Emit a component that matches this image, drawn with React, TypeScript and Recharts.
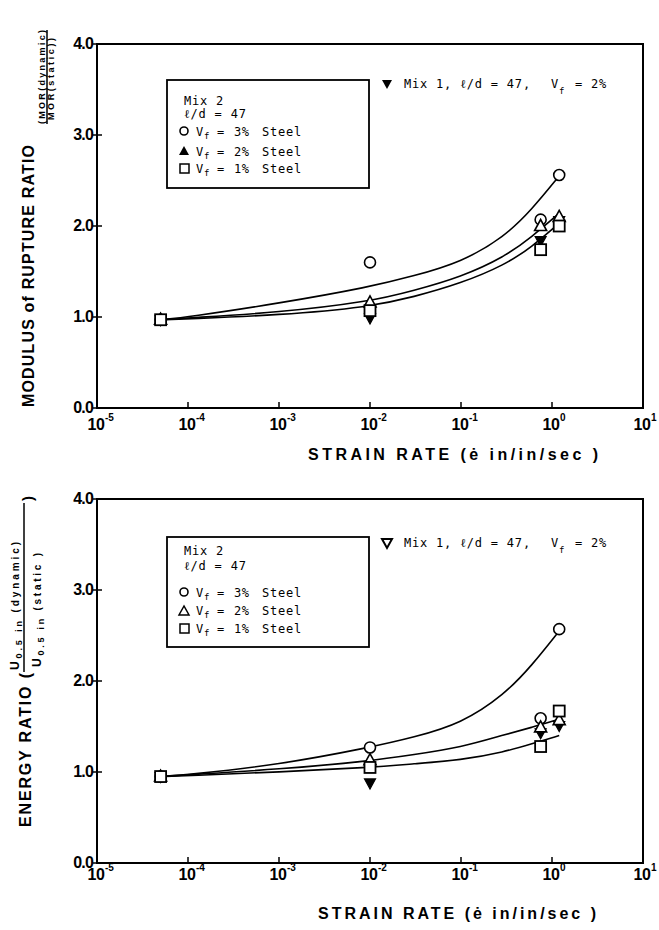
import React from 'react'
import { ComposedChart, Line, Scatter, XAxis, YAxis, ReferenceArea, Customized } from 'recharts'

// strain rates (in/in/sec) where the tests were run
const strainRate = [5e-5, 1e-2, 0.75, 1.2]
// strain rates used to trace the fitted curves
const fitRate = [5e-5, 1e-4, 1e-3, 1e-2, 3e-2, 1e-1, 0.3, 0.6, 1.2]

const xTicks = [1e-5, 1e-4, 1e-3, 1e-2, 1e-1, 1, 10]
const xTickExp = ['-5', '-4', '-3', '-2', '-1', '0', '1']
const yTicks = [0, 1, 2, 3, 4]
const yTickLabels = ['0.0', '1.0', '2.0', '3.0', '4.0']

// modulus of rupture ratio (top panel)
const morVf3 = [0.97, 1.6, 2.07, 2.56]
const morVf2 = [0.97, 1.16, 2.0, 2.1]
const morVf1 = [0.97, 1.07, 1.74, 2.0]
const morMix1 = [0.97, 0.99, 1.84, 2.06]
const morFitVf3 = [0.97, 1.0, 1.15, 1.33, 1.45, 1.6, 1.88, 2.18, 2.55]
const morFitVf2 = [0.97, 0.99, 1.05, 1.17, 1.29, 1.44, 1.66, 1.88, 2.14]
const morFitVf1 = [0.97, 0.98, 1.02, 1.11, 1.22, 1.37, 1.57, 1.77, 2.03]

// energy ratio (bottom panel)
const engVf3 = [0.95, 1.27, 1.59, 2.57]
const engVf2 = [0.95, 1.13, 1.49, 1.57]
const engVf1 = [0.95, 1.05, 1.28, 1.67]
const engMix1 = [0.95, 0.88, 1.43, 1.51]
const engFitVf3 = [0.95, 0.97, 1.08, 1.27, 1.38, 1.53, 1.85, 2.17, 2.55]
const engFitVf2 = [0.95, 0.97, 1.03, 1.12, 1.19, 1.27, 1.41, 1.49, 1.58]
const engFitVf1 = [0.95, 0.96, 1.0, 1.05, 1.09, 1.13, 1.22, 1.31, 1.4]

const SANS = '"Liberation Sans", Arial, sans-serif'
const MONO = '"DejaVu Sans Mono", monospace'

const toPts = (xs: number[], ys: number[]) => xs.map((x, i) => ({ x, y: ys[i] }))

// marker shapes
const OpenCircle = (p: any) => (
  <circle cx={p.cx} cy={p.cy} r={5.5} fill="#fff" stroke="#000" strokeWidth={1.6} />
)
const OpenTriangle = (p: any) => (
  <polygon
    points={`${p.cx},${p.cy - 6.5} ${p.cx - 6},${p.cy + 4.5} ${p.cx + 6},${p.cy + 4.5}`}
    fill="#fff"
    stroke="#000"
    strokeWidth={1.6}
  />
)
const OpenSquare = (p: any) => (
  <rect x={p.cx - 5.5} y={p.cy - 5.5} width={11} height={11} fill="#fff" stroke="#000" strokeWidth={1.8} />
)
const DownTriangle = (p: any) => (
  <polygon
    points={`${p.cx - 5.5},${p.cy - 4} ${p.cx + 5.5},${p.cy - 4} ${p.cx},${p.cy + 6}`}
    fill="#000"
    stroke="#000"
    strokeWidth={1.2}
  />
)

const XTick = ({ x, y, index, lift }: any) => (
  <g>
    <line x1={x} x2={x} y1={y} y2={y - 6} stroke="#000" strokeWidth={1.5} />
    <text x={x - 1} y={y + lift} textAnchor="middle" fontFamily={SANS} fontWeight="bold" fontSize={16} letterSpacing={-0.5}>
      10
    </text>
    <text x={x + 8} y={y + lift - 9} fontFamily={SANS} fontWeight="bold" fontSize={10}>
      {xTickExp[index]}
    </text>
  </g>
)

const YTick = ({ x, y, index }: any) => (
  <g>
    <line x1={x - 4} x2={x + 5} y1={y} y2={y} stroke="#000" strokeWidth={1.5} />
    <text x={x - 4} y={y + 5} textAnchor="end" fontFamily={SANS} fontWeight="bold" fontSize={16} letterSpacing={-0.8}>
      {yTickLabels[index]}
    </text>
  </g>
)

type LegendPos = {
  boxY: number
  boxH: number
  rows: number[] // baselines: Mix 2, l/d, 3%, 2%, 1%
  marks: number[] // marker centres: 3%, 2%, 1%
  mix1Base: number
  filled: boolean
}

function LegendBlock({ pos }: { pos: LegendPos }) {
  const mx = 183
  const vx = 196
  const line = (base: number, pct: string) => (
    <g fontFamily={MONO} fontSize={12}>
      <text x={vx} y={base}>V</text>
      <text x={vx + 8} y={base + 3} fontSize={9}>f</text>
      <text x={vx + 21} y={base}>=</text>
      <text x={vx + 38} y={base} letterSpacing={0.6}>{pct}</text>
      <text x={vx + 66} y={base} letterSpacing={0.8}>Steel</text>
    </g>
  )
  const [c, t, s] = pos.marks
  const m1 = pos.mix1Base - 4
  return (
    <g>
      <rect x={167} y={pos.boxY} width={202} height={pos.boxH} fill="#fff" stroke="#000" strokeWidth={1.8} />
      <text x={184} y={pos.rows[0]} fontFamily={MONO} fontSize={12} letterSpacing={0.8}>Mix 2</text>
      <text x={184} y={pos.rows[1]} fontFamily={MONO} fontSize={12} letterSpacing={0.8}>ℓ/d = 47</text>
      <circle cx={mx + 1} cy={c} r={4} fill="none" stroke="#000" strokeWidth={1.6} />
      {pos.filled ? (
        <polygon points={`${mx + 1},${t - 5} ${mx - 4},${t + 4} ${mx + 6},${t + 4}`} fill="#000" />
      ) : (
        <polygon points={`${mx + 1},${t - 5} ${mx - 4},${t + 4} ${mx + 6},${t + 4}`} fill="none" stroke="#000" strokeWidth={1.5} />
      )}
      <rect x={mx - 3} y={s - 4} width={9} height={9} fill="none" stroke="#000" strokeWidth={1.5} />
      {line(pos.rows[2], '3%')}
      {line(pos.rows[3], '2%')}
      {line(pos.rows[4], '1%')}

      {pos.filled ? (
        <polygon points={`${382},${m1 - 4} ${392},${m1 - 4} ${387},${m1 + 5}`} fill="#000" />
      ) : (
        <polygon points={`${382},${m1 - 4} ${392},${m1 - 4} ${387},${m1 + 5}`} fill="#fff" stroke="#000" strokeWidth={2} />
      )}
      <g fontFamily={MONO} fontSize={12} letterSpacing={0.8}>
        <text x={404} y={pos.mix1Base}>Mix 1, ℓ/d = 47,</text>
        <text x={551} y={pos.mix1Base}>V</text>
        <text x={559} y={pos.mix1Base + 6} fontSize={9}>f</text>
        <text x={575} y={pos.mix1Base}>= 2%</text>
      </g>
    </g>
  )
}

function MorLabel() {
  return (
    <g fontFamily={SANS} fontWeight="bold">
      <text transform="translate(34,407) rotate(-90)" fontSize={16} textLength={262} lengthAdjust="spacing">
        MODULUS of RUPTURE RATIO
      </text>
      <text transform="translate(45,124) rotate(-90)" fontSize={9} textLength={94} lengthAdjust="spacing">
        (MOR(dynamic)
      </text>
      <line x1={47} x2={47} y1={124} y2={30} stroke="#000" strokeWidth={1.5} />
      <text transform="translate(54,120) rotate(-90)" fontSize={9} textLength={82} lengthAdjust="spacing">
        MOR(static))
      </text>
      <text x={308} y={460} fontSize={16} textLength={290} lengthAdjust="spacing">
        STRAIN RATE (ė in/in/sec )
      </text>
    </g>
  )
}

function EnergyLabel() {
  return (
    <g fontFamily={SANS} fontWeight="bold">
      <text transform="translate(31,362) rotate(-90)" fontSize={16} textLength={154} lengthAdjust="spacing">
        ENERGY  RATIO (
      </text>
      <text transform="translate(19,205) rotate(-90)" fontSize={12} textLength={128} lengthAdjust="spacing">
        U<tspan fontSize={9} dy={3}>0.5 in</tspan>
        <tspan dy={-3} fontSize={10}> (dynamic)</tspan>
      </text>
      <line x1={24} x2={24} y1={207} y2={38} stroke="#000" strokeWidth={1.5} />
      <text transform="translate(41,202) rotate(-90)" fontSize={12} textLength={114} lengthAdjust="spacing">
        U<tspan fontSize={9} dy={3}>0.5 in</tspan>
        <tspan dy={-3} fontSize={10}> (static )</tspan>
      </text>
      <text transform="translate(33,36) rotate(-90)" fontSize={15}>)</text>
      <text x={318} y={454} fontSize={16} textLength={278} lengthAdjust="spacing">
        STRAIN RATE (ė in/in/sec )
      </text>
    </g>
  )
}

type PanelProps = {
  height: number
  plotTop: number
  plotBottom: number
  vf3: number[]
  vf2: number[]
  vf1: number[]
  mix1: number[]
  fit3: number[]
  fit2: number[]
  fit1: number[]
  tickLift: number
  legend: LegendPos
  labels: React.ReactNode
}

const Y_AXIS_W = 40
const X_AXIS_H = 30

function RatioPanel(p: PanelProps) {
  const lineProps = {
    dataKey: 'y',
    type: 'basis' as const,
    stroke: '#000',
    strokeWidth: 1.6,
    dot: false,
    isAnimationActive: false,
  }
  return (
    <ComposedChart
      width={659}
      height={p.height}
      margin={{ top: p.plotTop, right: 16, bottom: p.height - p.plotBottom - X_AXIS_H, left: 97 - Y_AXIS_W }}
    >
      <XAxis
        dataKey="x"
        type="number"
        scale="log"
        domain={[1e-5, 10]}
        ticks={xTicks}
        interval={0}
        allowDataOverflow
        height={X_AXIS_H}
        tickSize={0}
        tickMargin={0}
        axisLine={{ stroke: '#000', strokeWidth: 2 }}
        tickLine={false}
        tick={(t: any) => <XTick {...t} lift={p.tickLift} />}
      />
      <YAxis
        dataKey="y"
        type="number"
        domain={[0, 4]}
        ticks={yTicks}
        interval={0}
        width={Y_AXIS_W}
        tickSize={0}
        tickMargin={0}
        axisLine={{ stroke: '#000', strokeWidth: 2 }}
        tickLine={false}
        tick={(t: any) => <YTick {...t} />}
      />
      <ReferenceArea x1={1e-5} x2={10} y1={0} y2={4} fill="none" stroke="#000" strokeWidth={2} />
      <Customized component={<LegendBlock pos={p.legend} />} />
      <Customized component={<g>{p.labels}</g>} />

      <Line {...lineProps} data={toPts(fitRate, p.fit3)} />
      <Line {...lineProps} data={toPts(fitRate, p.fit2)} />
      <Line {...lineProps} data={toPts(fitRate, p.fit1)} />

      <Scatter dataKey="y" data={toPts(strainRate, p.mix1)} shape={DownTriangle} isAnimationActive={false} />
      <Scatter dataKey="y" data={toPts(strainRate, p.vf3)} shape={OpenCircle} isAnimationActive={false} />
      <Scatter dataKey="y" data={toPts(strainRate, p.vf2)} shape={OpenTriangle} isAnimationActive={false} />
      <Scatter dataKey="y" data={toPts(strainRate, p.vf1)} shape={OpenSquare} isAnimationActive={false} />
    </ComposedChart>
  )
}

export default function App() {
  return (
    <div style={{ position: 'absolute', left: 0, top: 0, width: 659, height: 930, background: '#fff' }}>
      <RatioPanel
        height={465}
        plotTop={44}
        plotBottom={408}
        vf3={morVf3}
        vf2={morVf2}
        vf1={morVf1}
        mix1={morMix1}
        fit3={morFitVf3}
        fit2={morFitVf2}
        fit1={morFitVf1}
        tickLift={22}
        legend={{ boxY: 80, boxH: 108, rows: [105, 118, 136, 156, 173], marks: [131, 151, 168], mix1Base: 88, filled: true }}
        labels={<MorLabel />}
      />
      <RatioPanel
        height={465}
        plotTop={34}
        plotBottom={398}
        vf3={engVf3}
        vf2={engVf2}
        vf1={engVf1}
        mix1={engMix1}
        fit3={engFitVf3}
        fit2={engFitVf2}
        fit1={engFitVf1}
        tickLift={17}
        legend={{ boxY: 72, boxH: 110, rows: [90, 105, 132, 150, 168], marks: [127, 146, 163], mix1Base: 82, filled: false }}
        labels={<EnergyLabel />}
      />
    </div>
  )
}
